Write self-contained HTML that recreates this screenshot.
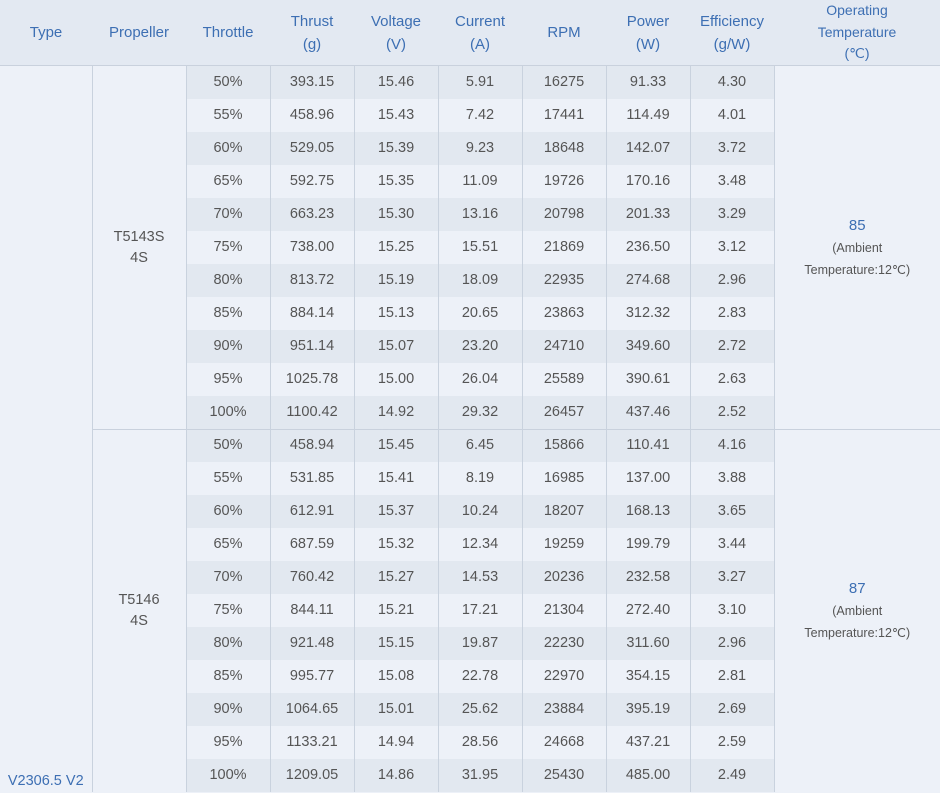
<!DOCTYPE html>
<html><head><meta charset="utf-8"><style>
body{margin:0;width:940px;height:793px;overflow:hidden;background:#edf1f8;font-family:"Liberation Sans",sans-serif;}
table{border-collapse:collapse;table-layout:fixed;width:940px;}
th{background:#e3e9f2;color:#3d6fb3;font-weight:normal;font-size:15px;line-height:23px;height:65px;padding:0;border-bottom:1px solid #c9d1dd;text-align:center;}
th.t{font-size:14px;line-height:21.5px;}
td{height:33px;padding:0;text-align:center;font-size:14.5px;color:#555;border-left:1px solid #c9d2de;line-height:21px;}
tr.d td.v{background:#e2e8f0;}
td.v{background:#edf1f8;}
td.span{background:#edf1f8;color:#555;}
td.type{border-left:none;vertical-align:bottom;color:#3d6fb3;padding-bottom:0;}
tr.sep td{box-shadow:inset 0 1px 0 #c9d1dd;}
.blue{color:#3d6fb3;font-size:15px;}
.small{font-size:12.5px;line-height:22px;}
</style></head><body>
<table>
<colgroup><col style="width:92px"><col style="width:94px"><col style="width:84px"><col style="width:84px"><col style="width:84px"><col style="width:84px"><col style="width:84px"><col style="width:84px"><col style="width:84px"><col style="width:166px"></colgroup>
<thead><tr>
<th>Type</th>
<th>Propeller</th>
<th>Throttle</th>
<th>Thrust<br>(g)</th>
<th>Voltage<br>(V)</th>
<th>Current<br>(A)</th>
<th>RPM</th>
<th>Power<br>(W)</th>
<th>Efficiency<br>(g/W)</th>
<th class="t">Operating<br>Temperature<br>(℃)</th>
</tr></thead>
<tbody id="tb"></tbody>
</table>
<script>
const groupA=[["50%","393.15","15.46","5.91","16275","91.33","4.30"],["55%","458.96","15.43","7.42","17441","114.49","4.01"],["60%","529.05","15.39","9.23","18648","142.07","3.72"],["65%","592.75","15.35","11.09","19726","170.16","3.48"],["70%","663.23","15.30","13.16","20798","201.33","3.29"],["75%","738.00","15.25","15.51","21869","236.50","3.12"],["80%","813.72","15.19","18.09","22935","274.68","2.96"],["85%","884.14","15.13","20.65","23863","312.32","2.83"],["90%","951.14","15.07","23.20","24710","349.60","2.72"],["95%","1025.78","15.00","26.04","25589","390.61","2.63"],["100%","1100.42","14.92","29.32","26457","437.46","2.52"]];
const groupB=[["50%","458.94","15.45","6.45","15866","110.41","4.16"],["55%","531.85","15.41","8.19","16985","137.00","3.88"],["60%","612.91","15.37","10.24","18207","168.13","3.65"],["65%","687.59","15.32","12.34","19259","199.79","3.44"],["70%","760.42","15.27","14.53","20236","232.58","3.27"],["75%","844.11","15.21","17.21","21304","272.40","3.10"],["80%","921.48","15.15","19.87","22230","311.60","2.96"],["85%","995.77","15.08","22.78","22970","354.15","2.81"],["90%","1064.65","15.01","25.62","23884","395.19","2.69"],["95%","1133.21","14.94","28.56","24668","437.21","2.59"],["100%","1209.05","14.86","31.95","25430","485.00","2.49"]];
const props=["T5143S<br>4S","T5146<br>4S"];
const temps=["85","87"];
const tb=document.getElementById('tb');
let html='';
[groupA,groupB].forEach((g,gi)=>{
 g.forEach((r,i)=>{
  html+='<tr class="'+(i%2==0?'d':'')+(gi==1&&i==0?' sep':'')+'">';
  if(gi==0&&i==0) html+='<td class="span type" rowspan="22">V2306.5 V2</td>';
  if(i==0) html+='<td class="span" rowspan="11">'+props[gi]+'</td>';
  r.forEach(v=>{html+='<td class="v">'+v+'</td>';});
  if(i==0) html+='<td class="span" rowspan="11"><span class="blue">'+temps[gi]+'</span><br><span class="small">(Ambient<br>Temperature:12℃)</span></td>';
  html+='</tr>';
 });
});
tb.innerHTML=html;
</script>
</body></html>
